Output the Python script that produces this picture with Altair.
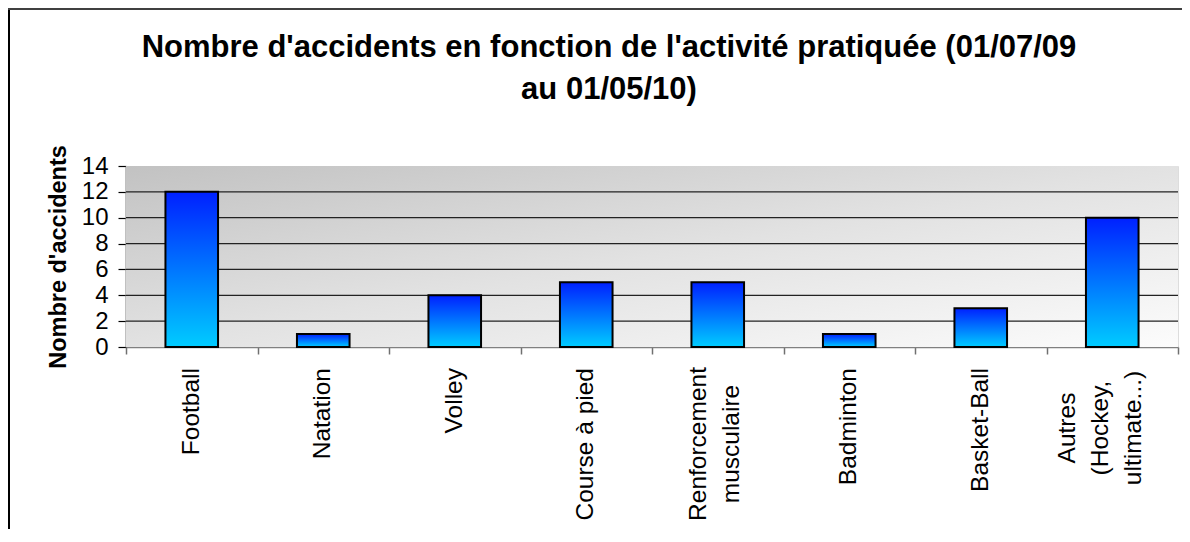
import altair as alt
import pandas as pd

# ---- data ----
categories = ["Football", "Natation", "Volley", "Course à pied",
              "Renforcement\nmusculaire", "Badminton", "Basket-Ball",
              "Autres\n(Hockey,\nultimate...)"]
values = [12, 1, 4, 5, 5, 1, 3, 10]
y_ticks = [0, 2, 4, 6, 8, 10, 12, 14]
grid_values = [2, 4, 6, 8, 10, 12]
title_lines = ["Nombre d'accidents en fonction de l'activité pratiquée (01/07/09",
               "au 01/05/10)"]
y_title = "Nombre d'accidents"

W, H = 1052, 181
FONT = "Liberation Sans"

df = pd.DataFrame({"cat": categories, "val": values})
grid_df = pd.DataFrame({"g": grid_values})
one = pd.DataFrame({"a": [0]})

bar_gradient = {
    "gradient": "linear", "x1": 0, "y1": 0, "x2": 0, "y2": 1,
    "stops": [{"offset": 0, "color": "#0020ff"},
              {"offset": 1, "color": "#00ccff"}],
}
bg_gradient = {
    "gradient": "linear", "x1": 0, "y1": 0, "x2": 1, "y2": 1,
    "stops": [{"offset": 0, "color": "#c2c2c2"},
              {"offset": 0.5, "color": "#e2e2e2"},
              {"offset": 1, "color": "#fcfcfc"}],
}

yscale = alt.Scale(domain=[0, 14], nice=False)
xsort = categories

y_axis = alt.Axis(
    values=y_ticks, grid=False, labelFontSize=24, labelFont=FONT,
    labelColor="black", labelPadding=10, tickSize=8,
    tickColor="black", tickWidth=1.2, domainColor="#808080",
    domainWidth=2, title=y_title, titleFont=FONT,
    titleFontSize=23.5, titleFontWeight="bold", titleColor="black",
    titleAngle=270, titleX=-61, titleY=H / 2, titleAlign="center",
    titleBaseline="alphabetic",
)

x_axis = alt.Axis(
    title=None, labels=False, tickSize=7, tickColor="#707070",
    tickWidth=1.5, domainColor="#808080", domainWidth=1.5,
    tickBand="extent",
)

background = alt.Chart(one).mark_rect(fill=bg_gradient).encode(
    x=alt.value(0), x2=alt.value(W), y=alt.value(0), y2=alt.value(H)
)

grid = alt.Chart(grid_df).mark_rule(color="#222222", strokeWidth=1.2).encode(
    y=alt.Y("g:Q", scale=yscale, axis=y_axis)
)

bars = alt.Chart(df).mark_bar(
    width={"band": 0.4}, fill=bar_gradient, stroke="black", strokeWidth=2
).encode(
    x=alt.X("cat:N", sort=xsort,
            scale=alt.Scale(paddingInner=0, paddingOuter=0),
            axis=x_axis),
    y=alt.Y("val:Q", scale=yscale, axis=y_axis),
)


def label_layer(n_lines, dy, align, ypos):
    # category labels, rotated; multi-line blocks roughly centred on the band
    return alt.Chart(df).transform_calculate(
        lines="split(datum.cat, '\\n')"
    ).transform_filter(
        f"length(datum.lines) == {n_lines}"
    ).mark_text(
        angle=270, align=align, baseline="middle", fontSize=24.5,
        font=FONT, lineHeight=33, color="black", dy=dy,
    ).encode(
        x=alt.X("cat:N", sort=xsort, axis=x_axis),
        y=alt.value(ypos),
        text=alt.Text("lines:N"),
    )


labels1 = label_layer(1, 0, "right", 202)
labels2 = label_layer(2, -19, "center", 278)
labels3 = label_layer(3, -44, "center", 262)

title = alt.Chart(one).mark_text(
    text=title_lines, font=FONT, fontSize=31, fontWeight="bold",
    color="black", align="center", baseline="alphabetic", lineHeight=42,
).encode(x=alt.value(483), y=alt.value(-109))

left_border = alt.Chart(one).mark_rule(color="black", strokeWidth=2).encode(
    x=alt.value(-117), y=alt.value(-160), y2=alt.value(400)
)
top_border = alt.Chart(one).mark_rule(color="#404040", strokeWidth=2).encode(
    x=alt.value(-118), x2=alt.value(1100), y=alt.value(-157)
)

chart = alt.layer(
    background, grid, bars, labels1, labels2, labels3, title,
    left_border, top_border
).properties(
    width=W, height=H,
    autosize=alt.AutoSizeParams(type="none"),
    padding={"left": 118, "top": 158, "right": 4, "bottom": 182},
).configure_view(
    stroke="#808080", strokeWidth=2
).configure(background="white")

chart.save("out.html", embed_options={"renderer": "svg", "actions": False})
